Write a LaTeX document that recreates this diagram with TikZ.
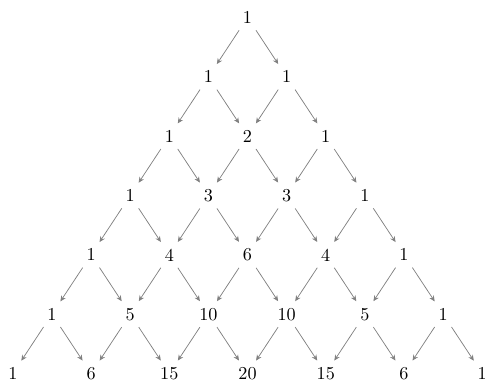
\documentclass[tikz,border=0pt]{standalone}
\usetikzlibrary{arrows.meta}

\begin{document}
\begin{tikzpicture}[
  >={Stealth[length=1.1mm,width=1mm]},
  num/.style={inner sep=3.5pt},
  link/.style={->,gray},
]
\useasboundingbox (-4.785,0.338) rectangle (4.59,-7.066);

% ===== rows of the triangle =====
\foreach \r in {0,...,6}
  \foreach \k in {0,...,\r} {
    \pgfmathtruncatemacro\val{factorial(\r)/(factorial(\k)*factorial(\r-\k))}
    \node[num] (n-\r-\k) at ({(2*\k-\r)*0.756},{-\r*1.147}) {\val};
  }

% ===== arrows down to the next row =====
\foreach \r in {0,...,5}
  \foreach \k in {0,...,\r} {
    \pgfmathtruncatemacro\nr{\r+1}
    \pgfmathtruncatemacro\nk{\k+1}
    \draw[link] (n-\r-\k) -- (n-\nr-\k);
    \draw[link] (n-\r-\k) -- (n-\nr-\nk);
  }
\end{tikzpicture}
\end{document}
